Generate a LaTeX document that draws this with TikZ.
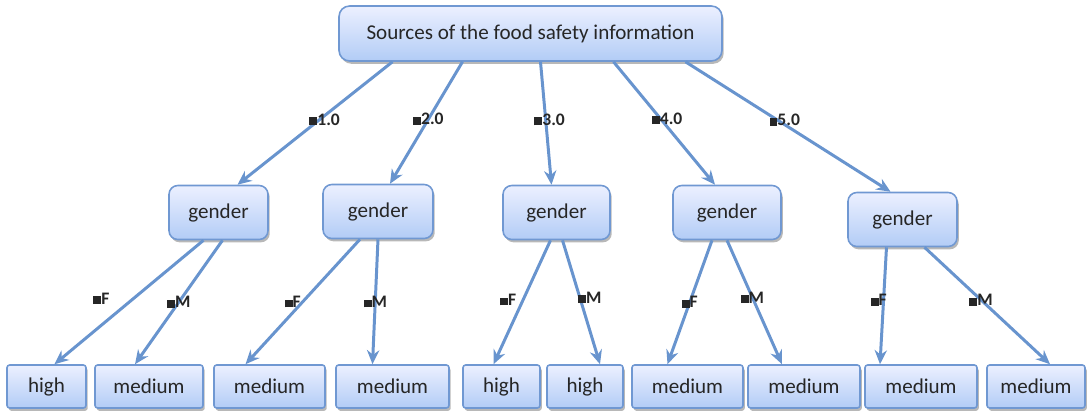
\documentclass[tikz,border=0pt]{standalone}
\usepackage{fontspec}
\setmainfont{Carlito}
\usetikzlibrary{calc,arrows.meta,shadows}
\definecolor{edgeblue}{RGB}{104,148,206}
\definecolor{boxline}{RGB}{112,152,210}
\definecolor{boxtop}{RGB}{236,240,255}
\definecolor{boxbot}{RGB}{178,204,246}
\tikzset{
  treebox/.style={draw=boxline, line width=0.9pt, top color=boxtop, bottom color=boxbot,
    rounded corners=4pt, font=\fontsize{12}{14}\selectfont, text=black!85,
    drop shadow={shadow xshift=1pt, shadow yshift=-1.6pt, fill=black!35, opacity=0.8}},
  rootbox/.style={treebox, minimum width=7.66cm, minimum height=1.1cm, rounded corners=6pt},
  splitbox/.style={treebox, minimum width=2.16cm, minimum height=1.08cm, rounded corners=5pt},
  leafbox/.style={treebox, minimum height=0.86cm, rounded corners=1.5pt},
  branch/.style={edgeblue, line width=1.7pt, -{Stealth[length=8pt,width=7pt]}},
  cut/.style={font=\bfseries\fontsize{10}{11}\selectfont, text=black!85, inner sep=0.5pt}
}
\newcommand{\sq}{\rule{4.5pt}{4.5pt}}
\begin{document}
\begin{tikzpicture}[x=0.02cm,y=-0.02cm]
\useasboundingbox (0,0) rectangle (1090,414);
\node[rootbox] (src) at (530.5,33.5) {Sources of the food safety information};
\node[splitbox, minimum width=1.98cm] (g1) at (218.5,212.5) {gender};
\node[splitbox, minimum width=2.2cm] (g2) at (378,211.5) {gender};
\node[splitbox, minimum width=2.14cm] (g3) at (556.5,212.5) {gender};
\node[splitbox] (g4) at (727,212.5) {gender};
\node[splitbox, minimum width=2.18cm] (g5) at (902.5,219.5) {gender};
\node[leafbox, minimum width=1.58cm] (l1) at (46.5,386.5) {high};
\node[leafbox, minimum width=2.16cm] (l2) at (149,386.5) {medium};
\node[leafbox, minimum width=2.22cm] (l3) at (269.5,386.5) {medium};
\node[leafbox, minimum width=2.26cm] (l4) at (392.5,386.5) {medium};
\node[leafbox, minimum width=1.54cm] (l5) at (501.5,386.5) {high};
\node[leafbox, minimum width=1.52cm] (l6) at (585,386.5) {high};
\node[leafbox, minimum width=2.22cm] (l7) at (687.5,386.5) {medium};
\node[leafbox, minimum width=2.24cm] (l8) at (804,386.5) {medium};
\node[leafbox, minimum width=2.24cm] (l9) at (921,386.5) {medium};
\node[leafbox, minimum width=1.96cm] (l10) at (1036,386.5) {medium};
\draw[branch] ($(src.south)+(-138,0)$) -- ($(g1.north)+(19,0)$) node[cut, pos=0.47, xshift=0.1cm]{\sq1.0};
\draw[branch] ($(src.south)+(-68,0)$) -- ($(g2.north)+(12,0)$) node[cut, pos=0.47]{\sq2.0};
\draw[branch] ($(src.south)+(10,0)$) -- ($(g3.north)+(-5,0)$) node[cut, pos=0.47, xshift=0.08cm]{\sq3.0};
\draw[branch] ($(src.south)+(83,0)$) -- ($(g4.north)+(-12,0)$) node[cut, pos=0.46, xshift=0.14cm]{\sq4.0};
\draw[branch] ($(src.south)+(155,0)$) -- ($(g5.north)+(-12,0)$) node[cut, pos=0.45, xshift=0.14cm]{\sq5.0};
\draw[branch] ($(g1.south)+(-15,0)$) -- ($(l1.north)+(8,0)$) node[cut, pos=0.47, xshift=-0.64cm]{\sq F};
\draw[branch] ($(g1.south)+(4,0)$) -- ($(l2.north)+(-14,0)$) node[cut, pos=0.5]{\sq M};
\draw[branch] ($(g2.south)+(-18,0)$) -- ($(l3.north)+(-24,0)$) node[cut, pos=0.5, xshift=-0.2cm]{\sq F};
\draw[branch] ($(g2.south)+(0,0)$) -- ($(l4.north)+(-20,0)$) node[cut, pos=0.5]{\sq M};
\draw[branch] ($(g3.south)+(-6,0)$) -- ($(l5.north)+(-8,0)$) node[cut, pos=0.48, xshift=-0.3cm]{\sq F};
\draw[branch] ($(g3.south)+(6,0)$) -- ($(l6.north)+(15,0)$) node[cut, pos=0.46, xshift=0.2cm]{\sq M};
\draw[branch] ($(g4.south)+(-15,0)$) -- ($(l7.north)+(-20,0)$) node[cut, pos=0.5]{\sq F};
\draw[branch] ($(g4.south)+(0,0)$) -- ($(l8.north)+(-22,0)$) node[cut, pos=0.46]{\sq M};
\draw[branch] ($(g5.south)+(-16,0)$) -- ($(l9.north)+(-41,0)$) node[cut, pos=0.45, xshift=-0.1cm]{\sq F};
\draw[branch] ($(g5.south)+(22,0)$) -- ($(l10.north)+(14,0)$) node[cut, pos=0.45]{\sq M};
\end{tikzpicture}
\end{document}
